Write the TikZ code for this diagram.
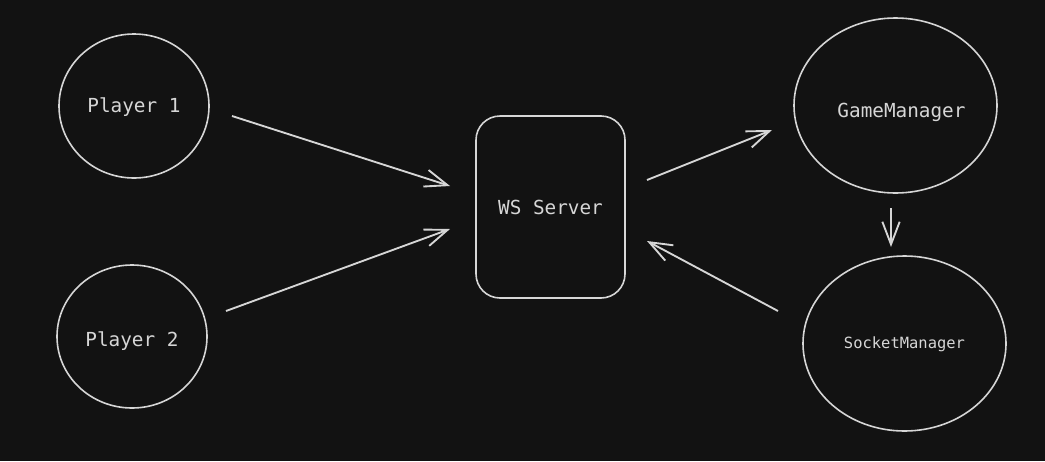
\documentclass[tikz,border=0pt]{standalone}
\usepackage{fontspec}
\setmonofont{DejaVu Sans Mono}
\usetikzlibrary{shapes.geometric,arrows.meta}
\definecolor{bgdark}{HTML}{121212}
\definecolor{inkgray}{HTML}{D6D6D6}
% text placed with its baseline #1 below the node centre
\newcommand\basetext[2]{\raisebox{-#1}[0pt][0pt]{#2}}
\tikzset{
  actor/.style={ellipse,draw=inkgray,line width=1.2pt,inner sep=0pt,text=inkgray,font=\ttfamily\fontsize{14.5}{16}\selectfont},
  server/.style={rectangle,rounded corners=18pt,draw=inkgray,line width=1.2pt,inner sep=0pt,text=inkgray,font=\ttfamily\fontsize{14.5}{16}\selectfont},
  msg/.style={draw=inkgray,line width=1.4pt,-{Straight Barb[length=17pt,width=13pt,line width=1.4pt]}}
}
\begin{document}
\begin{tikzpicture}[x=0.75pt,y=-0.75pt]
\fill[bgdark] (0,0) rectangle (1045,461);
\useasboundingbox (0,0) rectangle (1045,461);
% players
\node[actor,minimum width=112.5pt,minimum height=108pt] (player1) at (134,106) {\basetext{4.9pt}{Player 1}};
\node[actor,minimum width=112.5pt,minimum height=107.25pt] (player2) at (132,336.5) {\basetext{7.6pt}{Player 2}};
% server
\node[server,minimum width=111.75pt,minimum height=136.5pt] (ws) at (550.5,207) {\basetext{5.6pt}{WS Server}};
% managers
\node[actor,minimum width=152.25pt,minimum height=131.25pt] (game) at (895.5,105.5) {\hspace*{9pt}\basetext{8.9pt}{GameManager}};
\node[actor,minimum width=152.25pt,minimum height=131.25pt,font=\ttfamily\fontsize{11.6}{13}\selectfont] (socket) at (904.5,343.5) {\basetext{4.1pt}{SocketManager}};
% connector ends
\coordinate (p1out) at (232,116);
\coordinate (p2out) at (226,311);
\coordinate (wsin1) at (450,186);
\coordinate (wsin2) at (450,229);
\coordinate (wsout) at (647,180);
\coordinate (wsback) at (647,241);
\coordinate (gmin) at (772,130);
\coordinate (gmout) at (891,208);
\coordinate (smin) at (891,247);
\coordinate (smout) at (778,311);
\draw[msg] (p1out) -- (wsin1);
\draw[msg] (p2out) -- (wsin2);
\draw[msg] (wsout) -- (gmin);
\draw[msg] (gmout) -- (smin);
\draw[msg] (smout) -- (wsback);
\end{tikzpicture}
\end{document}
